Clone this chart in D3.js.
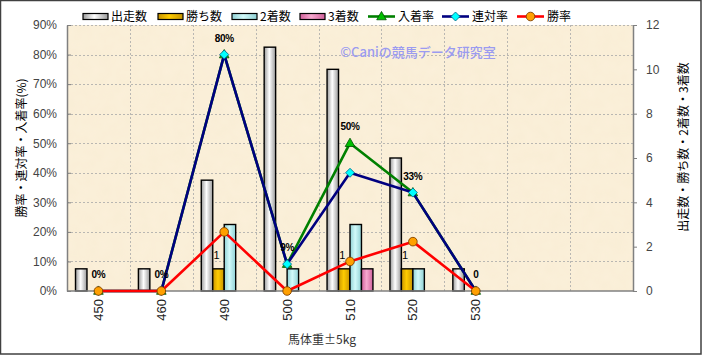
<!DOCTYPE html>
<html>
<head>
<meta charset="utf-8">
<script src="https://cdn.jsdelivr.net/npm/d3@7"></script>
<style>
  body { margin: 0; background: #fff; }
  svg text { font-family: "Liberation Sans", "Noto Sans CJK JP", sans-serif; }
  .jp { font-family: "Noto Sans CJK JP", sans-serif; }
</style>
</head>
<body>
<div id="chart"></div>
<script>
// data
const categories = ["450", "460", "490", "500", "510", "520", "530"];
const emptySlots = 2;
const runs   = [1, 1, 5, 11, 10, 6, 1];   // 出走数
const wins   = [0, 0, 1, 0, 1, 1, 0];     // 勝ち数
const second = [0, 0, 3, 1, 3, 1, 0];     // 2着数
const third  = [0, 0, 0, 0, 1, 0, 0];     // 3着数
const placeRate = [0, 0, 0.80, 0.091, 0.50, 0.333, 0];  // 入着率
const quinRate  = [0, 0, 0.80, 0.091, 0.40, 0.333, 0];  // 連対率
const winRate   = [0, 0, 0.20, 0, 0.10, 0.167, 0];      // 勝率
const rateLabels = ["0%", "0%", "80%", "9%", "50%", "33%", "0"];
const winLabels  = ["", "", "1", "", "1", "1", ""];
const leftTicks  = [0, 0.1, 0.2, 0.3, 0.4, 0.5, 0.6, 0.7, 0.8, 0.9];
const rightTicks = [0, 2, 4, 6, 8, 10, 12];

class RateChart {
    constructor() {
        this.width = 703;
        this.height = 356;
        this.plot = {left: 67, right: 633, top: 25, bottom: 291};

        this.svg = d3.select("#chart").append("svg")
            .attr("width", this.width)
            .attr("height", this.height);

        let defs = this.svg.append("defs");
        this.makeGradient(defs, "gRuns", "#9a9a9a", "#ffffff");
        this.makeGradient(defs, "gWins", "#c89400", "#ffcc00");
        this.makeGradient(defs, "gSecond", "#8fd0d4", "#d2fafa");
        this.makeGradient(defs, "gThird", "#d0609a", "#f7a8cf");

        // parchment texture
        let filt = defs.append("filter").attr("id", "paper");
        filt.append("feTurbulence").attr("type", "fractalNoise")
            .attr("baseFrequency", 0.08).attr("numOctaves", 2).attr("seed", 3);
        filt.append("feColorMatrix").attr("type", "matrix")
            .attr("values", "0 0 0 0 0.80  0 0 0 0 0.66  0 0 0 0 0.40  0 0 0 0.10 0");
        filt.append("feComposite").attr("in2", "SourceGraphic").attr("operator", "in");
    }

    makeGradient(defs, id, edge, mid) {
        let g = defs.append("linearGradient").attr("id", id)
            .attr("x1", "0%").attr("x2", "100%").attr("y1", "0%").attr("y2", "0%");
        g.append("stop").attr("offset", "0%").attr("stop-color", edge);
        g.append("stop").attr("offset", "45%").attr("stop-color", mid);
        g.append("stop").attr("offset", "100%").attr("stop-color", edge);
    }

    update() {
        let svg = this.svg;
        let p = this.plot;

        // outer frame
        svg.append("rect")
            .attr("x", 0.5).attr("y", 0.5)
            .attr("width", this.width - 2.5).attr("height", this.height - 2.5)
            .attr("fill", "#fff")
            .attr("stroke", "#404040").attr("stroke-width", 1.5);

        let slots = d3.range(categories.length + emptySlots);
        let xScale = d3.scaleBand().domain(slots).range([p.left, p.right]);
        let yLeft = d3.scaleLinear().domain([0, 0.9]).range([p.bottom, p.top]);
        let yRight = d3.scaleLinear().domain([0, 12]).range([p.bottom, p.top]);

        let series = [
            {name: "出走数", values: runs, fill: "url(#gRuns)"},
            {name: "勝ち数", values: wins, fill: "url(#gWins)"},
            {name: "2着数", values: second, fill: "url(#gSecond)"},
            {name: "3着数", values: third, fill: "url(#gThird)"}
        ];
        let barPad = 8.5;
        let inner = d3.scaleBand().domain(d3.range(series.length))
            .range([barPad, xScale.bandwidth() - barPad]);

        // plot background
        svg.append("rect")
            .attr("x", p.left).attr("y", p.top)
            .attr("width", p.right - p.left).attr("height", p.bottom - p.top)
            .attr("fill", "#fbf0da");
        svg.append("rect")
            .attr("x", p.left).attr("y", p.top)
            .attr("width", p.right - p.left).attr("height", p.bottom - p.top)
            .attr("fill", "#fbf0da")
            .attr("filter", "url(#paper)");

        // grid
        let grid = svg.append("g")
            .attr("stroke", "#a8a8a8").attr("stroke-width", 0.8)
            .attr("stroke-dasharray", "2,2");
        grid.selectAll(".hg").data(leftTicks.slice(1))
            .enter().append("line")
            .attr("x1", p.left).attr("x2", p.right)
            .attr("y1", d => Math.round(yLeft(d)) + 0.5)
            .attr("y2", d => Math.round(yLeft(d)) + 0.5);
        grid.selectAll(".vg").data(slots.slice(1))
            .enter().append("line")
            .attr("x1", d => Math.round(xScale(d)) + 0.5)
            .attr("x2", d => Math.round(xScale(d)) + 0.5)
            .attr("y1", p.top).attr("y2", p.bottom);

        // bars
        series.forEach((s, si) => {
            svg.append("g").selectAll("rect")
                .data(s.values)
                .enter().append("rect")
                .attr("x", (d, i) => xScale(i) + inner(si))
                .attr("y", d => yRight(d))
                .attr("width", inner.bandwidth())
                .attr("height", d => yRight(0) - yRight(d))
                .attr("fill", s.fill)
                .attr("stroke", d => d > 0 ? "#000" : "none")
                .attr("stroke-width", 1.4);
        });

        // axes
        let leftAxis = d3.axisLeft(yLeft).tickValues(leftTicks)
            .tickFormat(d3.format(".0%")).tickSizeInner(-4).tickSizeOuter(0).tickPadding(10);
        let gl = svg.append("g").attr("transform", "translate(" + p.left + ",0)").call(leftAxis);

        let rightAxis = d3.axisRight(yRight).tickValues(rightTicks)
            .tickSizeInner(4).tickSizeOuter(0).tickPadding(9);
        let gr = svg.append("g").attr("transform", "translate(" + p.right + ",0)").call(rightAxis);

        let bottomAxis = d3.axisBottom(xScale)
            .tickValues(d3.range(categories.length))
            .tickFormat(i => categories[i]).tickSize(0).tickPadding(0);
        let gb = svg.append("g").attr("transform", "translate(0," + p.bottom + ")").call(bottomAxis);
        gb.selectAll("text")
            .attr("transform", "rotate(-90)")
            .attr("x", -8).attr("y", 0).attr("dy", "0.35em")
            .style("text-anchor", "end");

        [gl, gr, gb].forEach(g => {
            g.select(".domain").attr("stroke", "#808080").attr("stroke-width", 1.5);
            g.selectAll(".tick line").attr("stroke", "#808080");
            g.selectAll("text").attr("fill", "#444").style("font-size", "12px");
        });
        gb.selectAll("text").attr("fill", "#222").style("font-size", "13px");
        gb.select(".domain").remove();
        svg.append("line")
            .attr("x1", p.left).attr("x2", p.right)
            .attr("y1", p.bottom).attr("y2", p.bottom)
            .attr("stroke", "#808080").attr("stroke-width", 1.5);

        // lines
        let lineSeries = [
            {name: "入着率", values: placeRate, color: "#008000", marker: "tri"},
            {name: "連対率", values: quinRate, color: "#000080", marker: "dia"},
            {name: "勝率", values: winRate, color: "#ff0000", marker: "dot"}
        ];
        let cx = i => xScale(i) + xScale.bandwidth() / 2;
        let line = d3.line().x((d, i) => cx(i)).y(d => yLeft(d));

        lineSeries.forEach(s => {
            svg.append("path")
                .datum(s.values)
                .attr("d", line)
                .attr("fill", "none")
                .attr("stroke", s.color)
                .attr("stroke-width", 2.6)
                .attr("stroke-linejoin", "round");
            s.values.forEach((v, i) => this.drawMarker(svg, s.marker, cx(i), yLeft(v)));
        });

        // data labels
        svg.append("g").selectAll("text")
            .data(rateLabels)
            .enter().append("text")
            .attr("x", (d, i) => cx(i))
            .attr("y", (d, i) => yLeft(placeRate[i]) - 13)
            .attr("text-anchor", "middle")
            .style("font-size", "10px")
            .style("font-weight", "bold")
            .style("letter-spacing", "-0.3px")
            .attr("fill", "#000")
            .text(d => d);

        svg.append("g").selectAll("text")
            .data(winLabels)
            .enter().append("text")
            .attr("x", (d, i) => xScale(i) + inner(1) + inner.bandwidth() / 2 - 2)
            .attr("y", (d, i) => yRight(wins[i]) - 10)
            .attr("text-anchor", "middle")
            .style("font-size", "11px")
            .attr("fill", "#000")
            .text(d => d);

        // watermark
        svg.append("text")
            .attr("class", "jp")
            .attr("x", 418).attr("y", 57)
            .attr("text-anchor", "middle")
            .style("font-size", "13px")
            .style("font-weight", "500")
            .attr("fill", "#9b9bf0")
            .text("©Caniの競馬データ研究室");

        // axis titles
        svg.append("text")
            .attr("class", "jp")
            .attr("transform", "translate(26,148) rotate(-90)")
            .attr("text-anchor", "middle")
            .style("font-size", "12px")
            .attr("fill", "#000")
            .text("勝率・連対率・入着率(%)");
        svg.append("text")
            .attr("class", "jp")
            .attr("transform", "translate(688,147) rotate(-90)")
            .attr("text-anchor", "middle")
            .style("font-size", "12px")
            .attr("fill", "#000")
            .text("出走数・勝ち数・2着数・3着数");
        svg.append("text")
            .attr("class", "jp")
            .attr("x", 322).attr("y", 344)
            .attr("text-anchor", "middle")
            .style("font-size", "12px")
            .attr("fill", "#333")
            .text("馬体重±5kg");

        // legend
        let legend = svg.append("g").attr("class", "legend");
        let barX = [83, 158, 232, 300];
        series.forEach((s, i) => {
            legend.append("rect")
                .attr("x", barX[i]).attr("y", 13.5)
                .attr("width", 25).attr("height", 6)
                .attr("fill", s.fill)
                .attr("stroke", "#000").attr("stroke-width", 1.2);
            legend.append("text")
                .attr("class", "jp")
                .attr("x", barX[i] + 28).attr("y", 21)
                .style("font-size", "12px")
                .attr("fill", "#000")
                .text(s.name);
        });
        let lineX = [368, 442, 517];
        lineSeries.forEach((s, i) => {
            legend.append("line")
                .attr("x1", lineX[i]).attr("x2", lineX[i] + 27)
                .attr("y1", 16.5).attr("y2", 16.5)
                .attr("stroke", s.color).attr("stroke-width", 2.6);
            this.drawMarker(legend, s.marker, lineX[i] + 13.5, 16.5);
            legend.append("text")
                .attr("class", "jp")
                .attr("x", lineX[i] + 30).attr("y", 21)
                .style("font-size", "12px")
                .attr("fill", "#000")
                .text(s.name);
        });
    }

    drawMarker(g, type, x, y) {
        if (type === "tri") {
            g.append("path")
                .attr("d", d3.symbol().type(d3.symbolTriangle).size(40)())
                .attr("transform", "translate(" + x + "," + (y + 0.5) + ")")
                .attr("fill", "#00c000").attr("stroke", "#005000").attr("stroke-width", 0.8);
        } else if (type === "dia") {
            g.append("path")
                .attr("d", "M0,-4.5L4.5,0L0,4.5L-4.5,0Z")
                .attr("transform", "translate(" + x + "," + y + ")")
                .attr("fill", "#00ffff").attr("stroke", "#006080").attr("stroke-width", 0.8);
        } else {
            g.append("circle")
                .attr("cx", x).attr("cy", y).attr("r", 4.3)
                .attr("fill", "#ffa000").attr("stroke", "#804000").attr("stroke-width", 0.9);
        }
    }
}

let chart = new RateChart();
chart.update();
</script>
</body>
</html>
